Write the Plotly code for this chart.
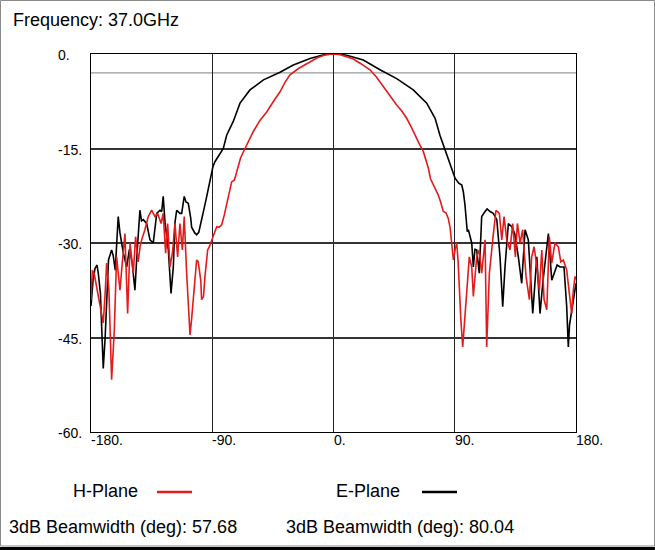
import plotly.graph_objects as go

FREQ_LABEL = "Frequency: 37.0GHz"
H_NAME, E_NAME = "H-Plane", "E-Plane"
H_BEAMWIDTH = 57.68
E_BEAMWIDTH = 80.04
REF_LEVEL = -3

X_TICKS = [-180, -90, 0, 90, 180]
X_TICK_TEXT = ["-180.", "-90.", "0.", "90.", "180."]
Y_TICKS = [0, -15, -30, -45, -60]
Y_TICK_TEXT = ["0.", "-15.", "-30.", "-45.", "-60."]

# E-plane (black)
e_angle = [-180, -178.5, -177, -175.5, -174.6, -173, -172, -170.9, -169.5, -168, -167, -164.7, -163.5, -162,
           -161, -159.8, -158.5, -156, -153.5, -151.5, -149.5, -147.4, -146, -144.5, -143.7, -142.5, -141.2,
           -138.7, -136.2, -133.8, -131.2, -128.8, -127.5, -126.4, -125, -122.6, -121.4, -120.6, -118.9,
           -117.7, -116.4, -114, -112.7, -110.8, -109.5, -107.8, -106, -105.3, -103, -101.6, -100, -98.5,
           -97, -95.5, -94.1, -92.5, -91, -89.5, -88, -85.5, -81.8, -79.3, -74.4, -69.4, -62, -52, -39.7,
           -29.8, -17.4, -8, 0, 5, 9.8, 22.1, 34.5, 46.9, 59.2, 69.2, 75.4, 79, 82.8, 86.5, 90.2, 93, 95.2,
           96.4, 97.6, 99.3, 100.1, 102.6, 103.8, 105, 106.3, 108.2, 109.2, 110, 112.5, 114, 116.2, 118.6,
           121.2, 123.6, 125.6, 127.3, 129.8, 132.3, 134.5, 137.2, 139.7, 142.2, 144.6, 147.9, 150.9, 153.3,
           155.5, 157.8, 159.5, 162, 164.4, 166, 168.2, 171.1, 173.1, 174.3, 175.2, 176.1, 178, 180]
e_db = [-40, -36, -34, -33.5, -34.8, -38, -43.8, -49.9, -45, -37, -32.7, -31.1, -32, -34.3,
        -30, -25.8, -28.4, -31.6, -33.8, -31, -33, -37.5, -32.2, -27, -24.8, -26.5, -26.3,
        -26.9, -29.5, -30, -25.3, -24.8, -25, -22.6, -26.9, -31.1, -36, -38, -33.8,
        -26.8, -24.8, -25.3, -25.3, -22.6, -23.5, -23.7, -26, -27.5, -28.4, -28.7, -28.3, -27,
        -25.5, -24, -22.6, -20.8, -19, -17.9, -17.1, -16.2, -15, -12.9, -10.7, -7.8, -5.7, -4.1, -2.9,
        -1.75, -0.7, -0.15, 0, -0.05, -0.2, -0.95, -2.5, -3.9, -5.7, -7.8, -10.2, -12.9, -15.2, -17.6, -19.7, -20.5, -20.8,
        -21.9, -24, -28.2, -27.9, -30, -33.8, -31, -31.1, -34.8, -30, -25.8, -25, -24.6, -25, -25.3,
        -26.3, -32.2, -40.1, -33.8, -26.9, -27.4, -28.5, -32.2, -36.4, -27.9, -29.5, -41.2, -32.2, -41.2,
        -36, -32.2, -28.5, -35.9, -34.3, -33.5, -33.8, -33.8, -40.1, -46.5, -43, -41.7, -39.6, -36.4]

# H-plane (red)
h_angle = [-180, -179, -177.5, -175.8, -173.3, -170.9, -169.5, -168.4, -166.7, -165.5, -164.7, -163.5, -162.7,
           -161, -158.5, -156.8, -154.8, -153.8, -152.8, -151, -149.8, -148.6, -146.9, -145, -143.5, -142.4,
           -140, -137.5, -135, -133.5, -132.5, -130.5, -128, -126.4, -124.6, -123.1, -121.4, -119.5, -117.7,
           -115.7, -114, -112.2, -110.8, -109, -107.8, -106.5, -105.3, -104, -102.5, -101.6, -100.4, -98.5,
           -97.9, -96.5, -95.4, -93.4, -92, -90, -88, -86.7, -85, -83, -81, -79.3, -77.5, -75.6, -73.5,
           -71.9, -69, -65.7, -62.5, -59.5, -54.5, -49.6, -44.5, -39.7, -36, -32.3, -26, -19.9, -12, -5, 0,
           5, 10, 14.7, 20, 27.1, 32, 37, 42, 46.9, 50.5, 54.3, 57.5, 60.5, 63.5, 66.7, 68.5, 70.4, 72,
           74.1, 76, 77.8, 79.5, 81.5, 83.5, 85.2, 86.5, 87.7, 89, 90.3, 91.5, 92.5, 93.4, 94.5, 95.9, 97,
           98.4, 100.8, 102.6, 103.8, 106.3, 108.2, 110, 112.5, 113.7, 115.7, 118.2, 120.6, 123.1, 124.9,
           126.6, 128.6, 131, 133, 135, 136.5, 138.5, 140.4, 142.9, 145.4, 147.1, 148.9, 150.8, 152.8,
           154.6, 156.3, 158.3, 160.2, 162, 164.4, 166.9, 168.7, 170.6, 173.1, 175.6, 176.8, 178, 179.3, 180]
h_db = [-39, -34.3, -35, -36.9, -39.5, -42.7, -38, -33.2, -37.5, -45, -51.7, -47, -43.8,
        -32.2, -37.5, -33.2, -28.5, -35, -41.2, -30, -32, -34.8, -29, -33, -30.5, -29.5,
        -27.9, -25.8, -24.8, -25.5, -25.8, -25.3, -26.9, -25.3, -31.6, -26.9, -33.8, -31.5, -26.9,
        -32.2, -26.9, -31.1, -25.8, -34.8, -40, -44.6, -42, -39, -35, -32.7, -33, -36,
        -39, -38.5, -35.3, -31.1, -30.5, -29.2, -28, -27.4, -27.5, -27.1, -25.5, -24, -22, -20.3, -20,
        -18.7, -16.5, -15, -13.5, -12.3, -10.5, -9.2, -7.5, -6, -4.5, -3.3, -2.3, -1.5, -0.6, -0.05, 0,
        -0.1, -0.4, -0.8, -1.5, -2.5, -3.7, -5.2, -6.6, -8.1, -9, -10.2, -11.5, -12.9, -14.2, -15.5, -16.8, -18.1, -19.8,
        -20.8, -21.5, -22.4, -23.5, -25, -25.2, -26.1, -27.5, -29.8, -32.7, -31, -30, -33, -37.5, -42, -46.5, -43,
        -39, -32.2, -33.8, -38.5, -32.2, -31.1, -34.8, -29.5, -46.5, -34.8, -29.5, -24.8, -25.3, -29.5,
        -25.8, -29.5, -31.1, -26.9, -32.2, -26.9, -30, -27.9, -35.3, -39, -32.2, -30.6, -33.5, -37.5,
        -31.1, -39, -40.6, -29, -33.2, -30, -30.6, -33, -32.7, -34.3, -39, -41.2, -37.5, -35.3, -35.8]

RED = "#e31b1b"
BLACK = "#000000"
FONT = "Liberation Sans, Arial, sans-serif"

fig = go.Figure()
fig.add_trace(go.Scatter(x=e_angle, y=e_db, mode="lines", name=E_NAME,
                         line=dict(color=BLACK, width=1.6), showlegend=False))
fig.add_trace(go.Scatter(x=h_angle, y=h_db, mode="lines", name=H_NAME,
                         line=dict(color=RED, width=1.6), showlegend=False))

W, H = 655, 550
L, R, T, B = 91, 79, 54, 118
PW, PH = W - L - R, H - T - B


def px(x):
    return (x - L) / PW


def py(y):
    return (H - B - y) / PH


fig.update_layout(
    width=W, height=H,
    margin=dict(l=L, r=R, t=T, b=B, pad=0),
    paper_bgcolor="white", plot_bgcolor="white",
    font=dict(family=FONT, color="black", size=14),
    xaxis=dict(range=[-180, 180], tickvals=X_TICKS, showticklabels=False, ticks="",
               showgrid=True, gridcolor="#222222", gridwidth=1, zeroline=False,
               showline=True, linecolor="black", linewidth=1, mirror=True),
    yaxis=dict(range=[-60, 0], tickvals=Y_TICKS, showticklabels=False, ticks="",
               showgrid=True, gridcolor="#333333", gridwidth=1.5, zeroline=False,
               showline=True, linecolor="black", linewidth=1, mirror=True),
)

# -3 dB reference line
fig.add_shape(type="line", xref="x domain", yref="y", x0=0, x1=1, y0=REF_LEVEL, y1=REF_LEVEL,
              line=dict(color="#9a9a9a", width=1.2), layer="below")

ann = []
for v, t in zip(X_TICKS, X_TICK_TEXT):
    ann.append(dict(x=v, y=0, xref="x", yref="paper", text=t, showarrow=False,
                    xanchor="left", yanchor="middle", xshift=-2, yshift=-8,
                    font=dict(size=14, family=FONT)))
for v, t in zip(Y_TICKS, Y_TICK_TEXT):
    ann.append(dict(x=px(56), y=v, xref="paper", yref="y", text=t, showarrow=False,
                    xanchor="left", yanchor="middle", yshift=-1,
                    font=dict(size=14, family=FONT)))

ann.append(dict(x=px(11), y=py(20), xref="paper", yref="paper", text=FREQ_LABEL, showarrow=False,
                xanchor="left", yanchor="middle", font=dict(size=18, family=FONT)))
ann.append(dict(x=px(71), y=py(491), xref="paper", yref="paper", text=H_NAME, showarrow=False,
                xanchor="left", yanchor="middle", font=dict(size=18, family=FONT)))
ann.append(dict(x=px(334), y=py(491), xref="paper", yref="paper", text=E_NAME, showarrow=False,
                xanchor="left", yanchor="middle", font=dict(size=18, family=FONT)))
ann.append(dict(x=px(7), y=py(527), xref="paper", yref="paper",
                text=f"3dB Beamwidth (deg): {H_BEAMWIDTH:.2f}", showarrow=False,
                xanchor="left", yanchor="middle", font=dict(size=18, family=FONT)))
ann.append(dict(x=px(284), y=py(527), xref="paper", yref="paper",
                text=f"3dB Beamwidth (deg): {E_BEAMWIDTH:.2f}", showarrow=False,
                xanchor="left", yanchor="middle", font=dict(size=18, family=FONT)))
fig.update_layout(annotations=ann)

# legend line samples
fig.add_shape(type="line", xref="paper", yref="paper", x0=px(157), x1=px(192), y0=py(492), y1=py(492),
              line=dict(color=RED, width=2.5))
fig.add_shape(type="line", xref="paper", yref="paper", x0=px(422), x1=px(457), y0=py(492), y1=py(492),
              line=dict(color=BLACK, width=2.5))

# outer frame
fig.add_shape(type="rect", xref="paper", yref="paper", x0=px(0.5), x1=px(654.5), y0=py(546), y1=py(0.5),
              line=dict(color="#8a8a8a", width=1))
fig.add_shape(type="line", xref="paper", yref="paper", x0=px(0), x1=px(655), y0=py(548.5), y1=py(548.5),
              line=dict(color="black", width=3))

fig.write_html("out.html", config={"displayModeBar": False},
               post_script="document.body.style.margin='0';document.body.style.overflow='hidden';")
